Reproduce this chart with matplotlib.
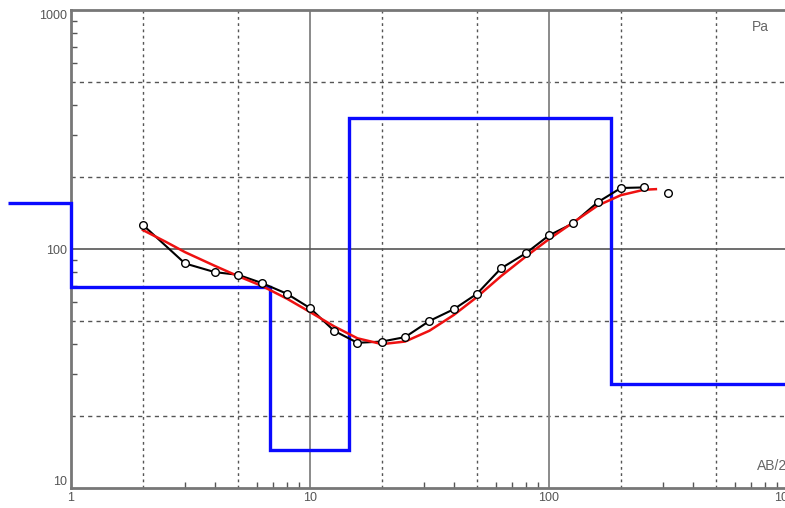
import matplotlib
matplotlib.use("Agg")
import matplotlib.pyplot as plt
from matplotlib.ticker import NullFormatter, FixedLocator, LogLocator

# field curve: AB/2 spacing and apparent resistivity
ab2 = [2, 3, 4, 5, 6.3, 8, 10, 12.6, 15.8, 20, 25, 31.6, 40, 50, 63, 80, 100, 126, 160, 200, 250, 316]
rho_obs = [126, 87, 80, 78, 72, 65, 56.6, 45.5, 40.5, 41, 42.8, 50, 56, 65, 83, 96, 114, 128, 157, 180, 181, 171]

# theoretical (model) curve
ab2_model = [2, 2.5, 3, 4, 5, 6.3, 8, 10, 12.6, 15.8, 20, 25, 31.6, 40, 50, 63, 80, 100, 126, 160, 200, 250, 280]
rho_model = [120, 107, 97, 85, 77, 70, 62, 54.5, 47.5, 42.3, 40, 41, 45.5, 53, 63, 77, 93, 110, 129, 152, 168, 177, 178]

# layered model: boundaries and layer resistivities
layer_edges = [0.545, 1, 6.8, 14.6, 182, 1000]
layer_rho = [156, 69.3, 14.4, 353, 27.2]

fig = plt.figure(figsize=(7.85, 5.08), dpi=100)
ax = fig.add_axes([71 / 785, 20 / 508, 717 / 785, 478 / 508])
ax.set_xscale("log")
ax.set_yscale("log")
ax.set_xlim(1, 1000)
ax.set_ylim(10, 1000)

grid_col = "#555555"
for v in [2, 5, 20, 50, 200, 500]:
    ax.axvline(v, color=grid_col, lw=1.0, ls=(0, (2, 2.5)), zorder=1)
for v in [20, 50, 200, 500]:
    ax.axhline(v, color=grid_col, lw=1.0, ls=(0, (3, 3)), zorder=1)
for v in [10, 100]:
    ax.axvline(v, color="#8a8a8a", lw=1.4, zorder=1)
ax.axhline(100, color="#555555", lw=1.2, zorder=1)

ax.stairs(layer_rho, layer_edges, baseline=None, color="#0a0aff", lw=2.4,
          clip_on=False, zorder=3)

ax.plot(ab2[:-1], rho_obs[:-1], color="black", lw=1.5, zorder=4)
ax.plot(ab2_model, rho_model, color="#ee1111", lw=1.8, zorder=5)
ax.plot(ab2, rho_obs, ls="none", marker="o", ms=5.5, mfc="white",
        mec="black", mew=1.0, zorder=6)

for s in ax.spines.values():
    s.set_color("#777777")
    s.set_linewidth(2)

ax.xaxis.set_major_locator(FixedLocator([1, 10, 100, 1000]))
ax.yaxis.set_major_locator(FixedLocator([10, 100, 1000]))
ax.xaxis.set_minor_locator(LogLocator(base=10, subs=[3, 4, 6, 7, 8, 9]))
ax.yaxis.set_minor_locator(LogLocator(base=10, subs=[3, 4, 6, 7, 8, 9]))
ax.xaxis.set_minor_formatter(NullFormatter())
ax.yaxis.set_minor_formatter(NullFormatter())
ax.set_xticklabels(["1", "10", "100", "1000"])
ax.set_yticklabels(["10", "100", "1000"])
ax.tick_params(which="major", length=0, pad=3, labelsize=9, labelcolor="#555555")
ax.tick_params(which="minor", direction="in", length=4, color="#555555", width=1)
for lab in ax.get_xticklabels() + ax.get_yticklabels():
    lab.set_family("Liberation Sans")
yt = ax.yaxis.get_major_ticks()
yt[0].label1.set_va("bottom")
yt[2].label1.set_va("top")

fig.text(752 / 785, 1 - 27 / 508, "Pa", fontsize=10, color="#666666",
         family="Liberation Sans", va="center")
fig.text(757 / 785, 20 / 508 + 22 / 508, "AB/2", fontsize=10, color="#666666",
         family="Liberation Sans", va="center")

fig.savefig("out.png", dpi=100)
